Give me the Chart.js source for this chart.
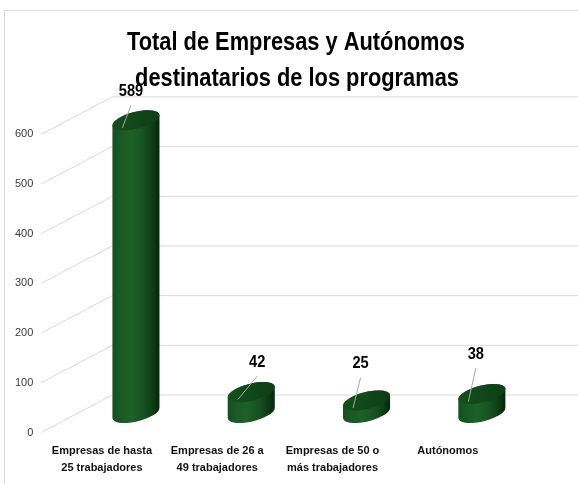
<!DOCTYPE html>
<html>
<head>
<meta charset="utf-8">
<script src="https://cdn.jsdelivr.net/npm/chart.js@4.4.1/dist/chart.umd.min.js"></script>
<style>
html, body { margin: 0; padding: 0; background: #fff; }
</style>
</head>
<body>
<canvas id="myChart" width="578" height="484"></canvas>
<script>
// chart data
var categories = [
  ["Empresas de hasta", "25 trabajadores"],
  ["Empresas de 26 a", "49 trabajadores"],
  ["Empresas de 50 o", "más trabajadores"],
  ["Autónomos"]
];
var totals = [589, 42, 25, 38];
var yTicks = [0, 100, 200, 300, 400, 500, 600];
var titleLines = ["Total de Empresas y Autónomos", "destinatarios de los programas"];

// where each value label sits, relative to the top of its cylinder
var labelShift = [[-5, -29], [6, -30], [-6, -37], [-6, -40]];

var sans = "'Liberation Sans', Arial, sans-serif";
var tilt = -14 * Math.PI / 180;
var rimB = 8.5;

// text squeezed sideways, the original uses a narrow face
function narrowText(ctx, text, x, y, squeeze) {
  ctx.save();
  ctx.translate(x, y);
  ctx.scale(squeeze, 1);
  ctx.fillText(text, 0, 0);
  ctx.restore();
}

// frame, title and the 3d walls
var backdrop = {
  id: 'backdrop',
  beforeDatasetsDraw: function(chart) {
    var ctx = chart.ctx;
    var y = chart.scales.y;
    var area = chart.chartArea;
    ctx.save();
    ctx.strokeStyle = '#d9d9d9';
    ctx.lineWidth = 1;
    ctx.strokeRect(4.5, 10.5, 600, 500);

    var corner = area.left + 34;
    yTicks.forEach(function(v) {
      var py = y.getPixelForValue(v);
      ctx.beginPath();
      ctx.moveTo(41, py + 19.5);
      ctx.lineTo(corner, py - 18);
      ctx.lineTo(chart.width, py - 18);
      ctx.stroke();
    });

    ctx.fillStyle = '#000';
    ctx.font = 'bold 25px ' + sans;
    ctx.textAlign = 'center';
    ctx.textBaseline = 'middle';
    var sq = 338 / ctx.measureText(titleLines[0]).width;
    narrowText(ctx, titleLines[0], 296, 43, sq);
    narrowText(ctx, titleLines[1], 297, 79, sq);
    ctx.restore();
  }
};

function ellipsePt(cx, cy, a, t) {
  return [
    cx + a * Math.cos(t) * Math.cos(tilt) - rimB * Math.sin(t) * Math.sin(tilt),
    cy + a * Math.cos(t) * Math.sin(tilt) + rimB * Math.sin(t) * Math.cos(tilt)
  ];
}

// draw each bar as a cylinder
var cylinders = {
  id: 'cylinders',
  afterDatasetsDraw: function(chart) {
    var ctx = chart.ctx;
    var meta = chart.getDatasetMeta(0);
    meta.data.forEach(function(bar, i) {
      var cx = bar.x, top = bar.y, base = bar.base;
      var hw = bar.width / 2;
      var s = Math.sin(tilt), c = Math.cos(tilt);
      var a = Math.sqrt((hw * hw - rimB * rimB * s * s) / (c * c));
      var t0 = Math.atan2(-rimB * s, a * c);
      var topL = ellipsePt(cx, top, a, t0 + Math.PI);
      var baseL = ellipsePt(cx, base, a, t0 + Math.PI);
      var topR = ellipsePt(cx, top, a, t0);

      var g = ctx.createLinearGradient(cx - hw, 0, cx + hw, 0);
      g.addColorStop(0, '#174d20');
      g.addColorStop(0.15, '#1a5824');
      g.addColorStop(0.4, '#1d6129');
      g.addColorStop(0.65, '#175222');
      g.addColorStop(0.85, '#0e3d15');
      g.addColorStop(1, '#052608');

      ctx.save();
      ctx.beginPath();
      ctx.moveTo(topL[0], topL[1]);
      ctx.lineTo(baseL[0], baseL[1]);
      ctx.ellipse(cx, base, a, rimB, tilt, t0 + Math.PI, t0, true);
      ctx.lineTo(topR[0], topR[1]);
      ctx.ellipse(cx, top, a, rimB, tilt, t0, t0 - Math.PI, true);
      ctx.closePath();
      ctx.fillStyle = g;
      ctx.fill();

      var gt = ctx.createLinearGradient(cx - hw, 0, cx + hw, 0);
      gt.addColorStop(0, '#15501e');
      gt.addColorStop(1, '#0d3e15');
      ctx.beginPath();
      ctx.ellipse(cx, top, a, rimB, tilt, 0, Math.PI * 2);
      ctx.fillStyle = gt;
      ctx.fill();

      // value label with its leader line
      var sh = labelShift[i];
      ctx.strokeStyle = '#a6a6a6';
      ctx.lineWidth = 1;
      ctx.beginPath();
      ctx.moveTo(cx + sh[0], top + sh[1] + 14);
      ctx.lineTo(cx - 13.5, top + 7.5);
      ctx.stroke();

      ctx.fillStyle = '#000';
      ctx.font = 'bold 17px ' + sans;
      ctx.textAlign = 'center';
      ctx.textBaseline = 'middle';
      narrowText(ctx, String(totals[i]), cx + sh[0], top + sh[1], 0.86);
      ctx.restore();
    });
  }
};

new Chart("myChart", {
  type: "bar",
  data: {
    labels: categories,
    datasets: [{
      data: totals,
      backgroundColor: 'rgba(0,0,0,0)',
      categoryPercentage: 1,
      barPercentage: 0.408
    }]
  },
  options: {
    responsive: false,
    animation: false,
    layout: { padding: { top: 100, right: 38.5, bottom: 0, left: 0 } },
    plugins: {
      legend: { display: false },
      title: { display: false },
      tooltip: { enabled: false }
    },
    scales: {
      x: {
        grid: { display: false, drawTicks: false },
        border: { display: false },
        ticks: {
          labelOffset: -34,
          padding: 29,
          maxRotation: 0,
          autoSkip: false,
          color: '#111',
          font: { family: sans, weight: 'bold', size: 11, lineHeight: 17 / 11 }
        },
        afterFit: function(s) { s.height = 71; }
      },
      y: {
        min: 0,
        max: 630,
        grid: { display: false, drawTicks: false },
        border: { display: false },
        ticks: {
          stepSize: 100,
          includeBounds: false,
          labelOffset: 19.5,
          padding: 45,
          color: '#3a3a3a',
          font: { family: sans, size: 11 }
        },
        afterFit: function(s) { s.width = 78.3; }
      }
    }
  },
  plugins: [backdrop, cylinders]
});
</script>
</body>
</html>
